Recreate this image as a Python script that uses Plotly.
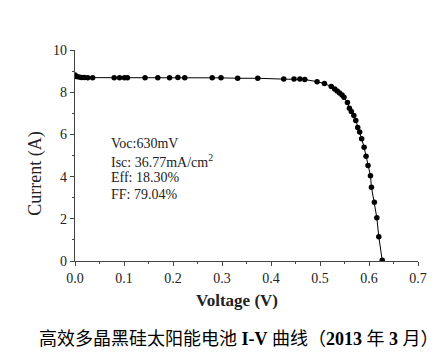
import plotly.graph_objects as go

voltage = [0.000, 0.003, 0.008, 0.013, 0.019, 0.026, 0.036, 0.080, 0.091, 0.101, 0.107,
           0.143, 0.169, 0.193, 0.210, 0.224, 0.280, 0.298, 0.332, 0.373, 0.426, 0.447,
           0.459, 0.469, 0.494, 0.509, 0.523, 0.530, 0.535, 0.540, 0.545, 0.549, 0.556,
           0.560, 0.564, 0.569, 0.573, 0.577, 0.581, 0.585, 0.590, 0.594, 0.598, 0.603,
           0.605, 0.611, 0.616, 0.620, 0.627]
current = [8.82, 8.74, 8.72, 8.70, 8.70, 8.69, 8.69, 8.68, 8.68, 8.68, 8.68,
           8.68, 8.69, 8.68, 8.70, 8.68, 8.68, 8.68, 8.66, 8.66, 8.62, 8.62,
           8.62, 8.60, 8.50, 8.41, 8.27, 8.15, 8.06, 7.96, 7.87, 7.76, 7.51,
           7.24, 7.09, 6.90, 6.66, 6.33, 6.11, 5.79, 5.39, 4.96, 4.53, 4.04,
           3.50, 2.79, 2.05, 1.15, 0.03]

x_ticks = [0.0, 0.1, 0.2, 0.3, 0.4, 0.5, 0.6, 0.7]
x_ticklabels = ["0.0", "0.1", "0.2", "0.3", "0.4", "0.5", "0.6", "0.7"]
y_ticks = [0, 2, 4, 6, 8, 10]
y_ticklabels = ["0", "2", "4", "6", "8", "10"]

stats_lines = ["Voc:630mV", "Isc: 36.77mA/cm<sup>2</sup>", "Eff: 18.30%", "FF: 79.04%"]
x_title = "<b>Voltage (V)</b>"
y_title = "Current (A)"
caption = "高效多晶黑硅太阳能电池 <b>I-V</b> 曲线（<b>2013</b> 年 <b>3</b> 月）"

SERIF = "Liberation Serif, Times New Roman, serif"
CAP_FONT = "Liberation Serif, Noto Sans CJK SC, serif"
AX = "#444444"

fig = go.Figure()
fig.add_trace(go.Scatter(
    x=voltage, y=current, mode="lines+markers",
    line=dict(color="black", width=1),
    marker=dict(color="black", size=5.5),
    showlegend=False,
))

axis_common = dict(
    showline=True, linecolor=AX, linewidth=1.2, mirror=False,
    showgrid=False, zeroline=False,
    ticks="outside", ticklen=4, tickwidth=1, tickcolor=AX,
    tickfont=dict(family=SERIF, size=14, color="#222222"),
)

fig.update_layout(
    width=438, height=361,
    margin=dict(l=67, r=28, t=42, b=108),
    paper_bgcolor="white", plot_bgcolor="white",
    xaxis=dict(range=[0, 0.7], tickvals=x_ticks, ticktext=x_ticklabels,
               minor=dict(ticks="outside", ticklen=2, tickcolor=AX, dtick=0.05),
               **axis_common),
    yaxis=dict(range=[0, 10], tickvals=y_ticks, ticktext=y_ticklabels,
               minor=dict(ticks="outside", ticklen=2, tickcolor=AX, dtick=1),
               **axis_common),
)

y0 = 0.556
dy = 17 / 211.6
for i, line in enumerate(stats_lines):
    fig.add_annotation(xref="paper", yref="paper", x=0.099, y=y0 - i * dy,
                       xanchor="left", yanchor="middle", showarrow=False,
                       text=line, font=dict(family=SERIF, size=14, color="#222222"))

fig.add_annotation(xref="paper", yref="paper", x=0.472, y=-0.188,
                   xanchor="center", yanchor="middle", showarrow=False,
                   text=x_title, font=dict(family=SERIF, size=17, color="#222222"))
fig.add_annotation(xref="paper", yref="paper", x=-0.114, y=0.413,
                   xanchor="center", yanchor="middle", showarrow=False, textangle=-90,
                   text=y_title, font=dict(family=SERIF, size=18, color="#222222"))
fig.add_annotation(xref="paper", yref="paper", x=(29 - 67) / 343, y=(253.3 - 332) / 211.6,
                   xanchor="left", yanchor="middle", showarrow=False,
                   text=caption, font=dict(family=CAP_FONT, size=18, color="black"))

fig.write_html("out.html")
